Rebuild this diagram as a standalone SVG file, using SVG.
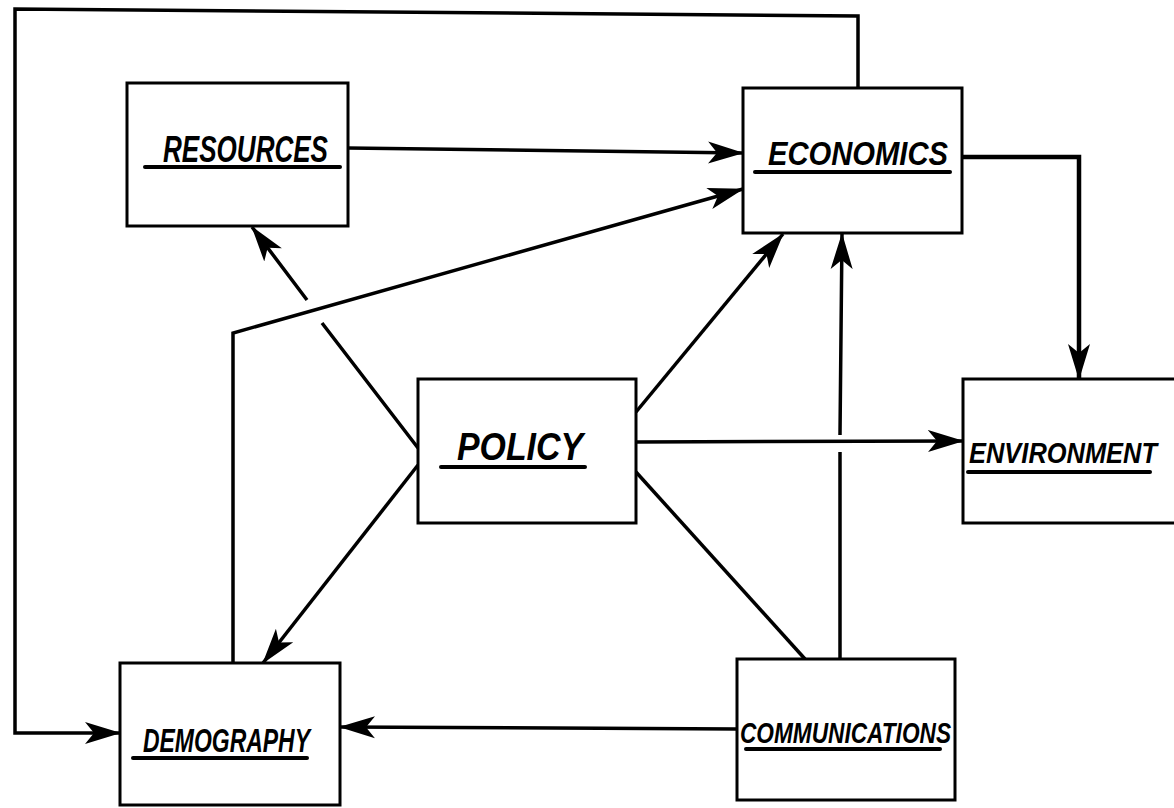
<svg xmlns="http://www.w3.org/2000/svg" width="1174" height="808" viewBox="0 0 1174 808">
<style>
.box{fill:#fff;stroke:#000;stroke-width:3}
.lbl{font-family:"Liberation Sans",Arial,sans-serif;font-style:italic;font-weight:bold;fill:#000}
.ul{stroke:#000;stroke-width:4;stroke-linecap:round}
.c{fill:none;stroke:#000;stroke-width:3.5;stroke-linejoin:miter}
.a{marker-end:url(#ah)}
</style>
<defs>
<marker id="ah" viewBox="0 0 36 24" refX="35" refY="12" markerWidth="36" markerHeight="24" markerUnits="userSpaceOnUse" orient="auto">
<path d="M0,1 L36,12 L0,23 L9,12 Z" fill="#000"/>
</marker>
</defs>
<rect width="1174" height="808" fill="#fff"/>
<g id="connectors">
<path class="c a" d="M858,88 L858,16 L15,9 L15,733 L120,733"/>
<path class="c a" d="M348,148 L743,153"/>
<path class="c a" d="M233,663 L233,333 L743,189"/>
<path class="c a" d="M962,157 L1079,157 L1079,379" style="stroke-width:4.5"/>
<path class="c a" d="M418,448 L322,323 M307,300 L252,227"/>
<path class="c a" d="M636,412 L783,234"/>
<path class="c a" d="M636,442 L963,441"/>
<path class="c a" d="M418,465 L263,663"/>
<path class="c" d="M636,472 L805,659"/>
<path class="c a" d="M840,659 L840,452 M840,435 L842,234"/>
<path class="c a" d="M737,729 L340,727"/>
</g>
<g id="resources">
<rect class="box" x="127" y="83" width="221" height="143"/>
<text class="lbl" x="163" y="162" font-size="36" textLength="165" lengthAdjust="spacingAndGlyphs">RESOURCES</text>
<line class="ul" x1="145" y1="167" x2="340" y2="167"/>
</g>
<g id="economics">
<rect class="box" x="743" y="88" width="219" height="145"/>
<text class="lbl" x="768" y="165" font-size="33" textLength="180" lengthAdjust="spacingAndGlyphs">ECONOMICS</text>
<line class="ul" x1="755" y1="172" x2="950" y2="172"/>
</g>
<g id="policy">
<rect class="box" x="418" y="379" width="218" height="144"/>
<text class="lbl" x="457" y="460" font-size="39" textLength="126" lengthAdjust="spacingAndGlyphs">POLICY</text>
<line class="ul" x1="441" y1="467" x2="585" y2="467"/>
</g>
<g id="environment">
<rect class="box" x="963" y="379" width="230" height="144"/>
<text class="lbl" x="969" y="463" font-size="30" textLength="188" lengthAdjust="spacingAndGlyphs">ENVIRONMENT</text>
<line class="ul" x1="968" y1="472" x2="1150" y2="472"/>
</g>
<g id="demography">
<rect class="box" x="120" y="663" width="220" height="142"/>
<text class="lbl" x="143" y="752" font-size="34" textLength="167" lengthAdjust="spacingAndGlyphs">DEMOGRAPHY</text>
<line class="ul" x1="133" y1="758" x2="307" y2="758"/>
</g>
<g id="communications">
<rect class="box" x="737" y="659" width="218" height="141"/>
<text class="lbl" x="740" y="743" font-size="30" textLength="211" lengthAdjust="spacingAndGlyphs">COMMUNICATIONS</text>
<line class="ul" x1="746" y1="749" x2="940" y2="749"/>
</g>
</svg>
